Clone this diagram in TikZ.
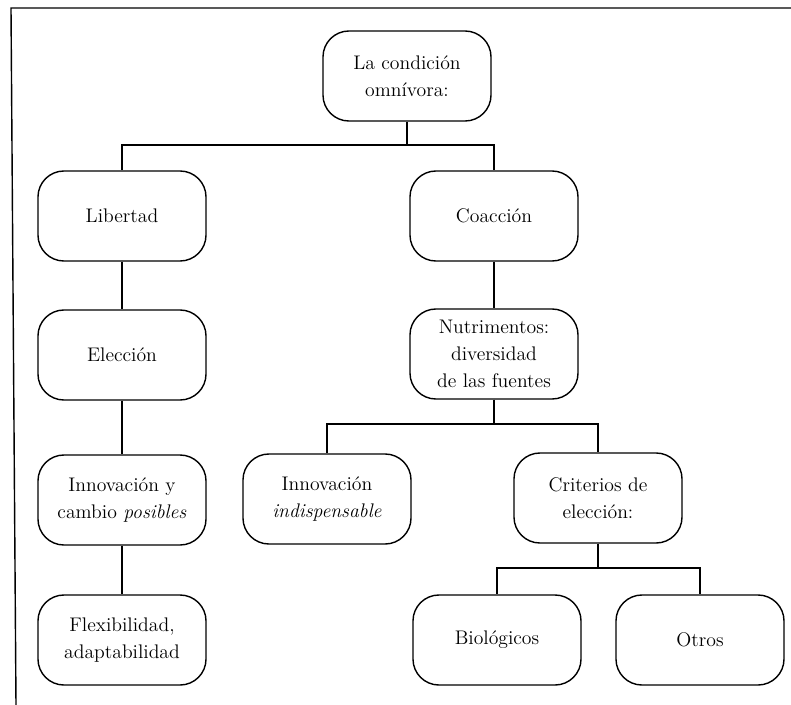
\documentclass[tikz,border=0pt]{standalone}
\usepackage{tikz}
\usetikzlibrary{positioning, calc}
\tikzset{
    caja/.style={draw=black, line width=1pt, rounded corners=0.65cm,
        minimum width=4.2cm, minimum height=2.25cm, align=center,
        inner sep=2pt, font=\fontsize{14}{19}\selectfont},
    linea/.style={draw=black, line width=1pt}
}

\begin{document}
\begin{tikzpicture}[x=0.025cm, y=-0.025cm]
    \useasboundingbox (0,0) rectangle (791,705);

    % page edge
    \draw[linea] (791,8) -- (11,8) -- (16,705);

    % boxes
    \foreach \name/\cx/\cy/\txt in {
        omni/407/76/{La condición\\omnívora:},
        lib/122/216/{Libertad},
        elec/122/355/{Elección},
        innp/122/500/{Innovación y\\cambio \textit{posibles}},
        flex/122/640/{Flexibilidad,\\adaptabilidad},
        coa/494/216/{Coacción},
        nutr/494/354/{Nutrimentos:\\diversidad\\de las fuentes},
        inni/327/499/{Innovación\\\textit{indispensable}},
        crit/598/498/{Criterios de\\elección:},
        bio/497/640/{Biológicos},
        otros/700/640/{Otros}}{

        \node[caja] (\name) at (\cx,\cy) {\txt};
    }

    % branch points
    \coordinate (j1) at (407,145);
    \coordinate (j2) at (494,424);
    \coordinate (j3) at (598,568);

    \draw[linea] (omni) -- (j1);
    \draw[linea] (j1) -| (lib);
    \draw[linea] (j1) -| (coa);

    \draw[linea] (lib) -- (elec);
    \draw[linea] (elec) -- (innp);
    \draw[linea] (innp) -- (flex);

    \draw[linea] (coa) -- (nutr);
    \draw[linea] (nutr) -- (j2);
    \draw[linea] (j2) -| (inni);
    \draw[linea] (j2) -| (crit);

    \draw[linea] (crit) -- (j3);
    \draw[linea] (j3) -| (bio);
    \draw[linea] (j3) -| (otros);
\end{tikzpicture}
\end{document}
